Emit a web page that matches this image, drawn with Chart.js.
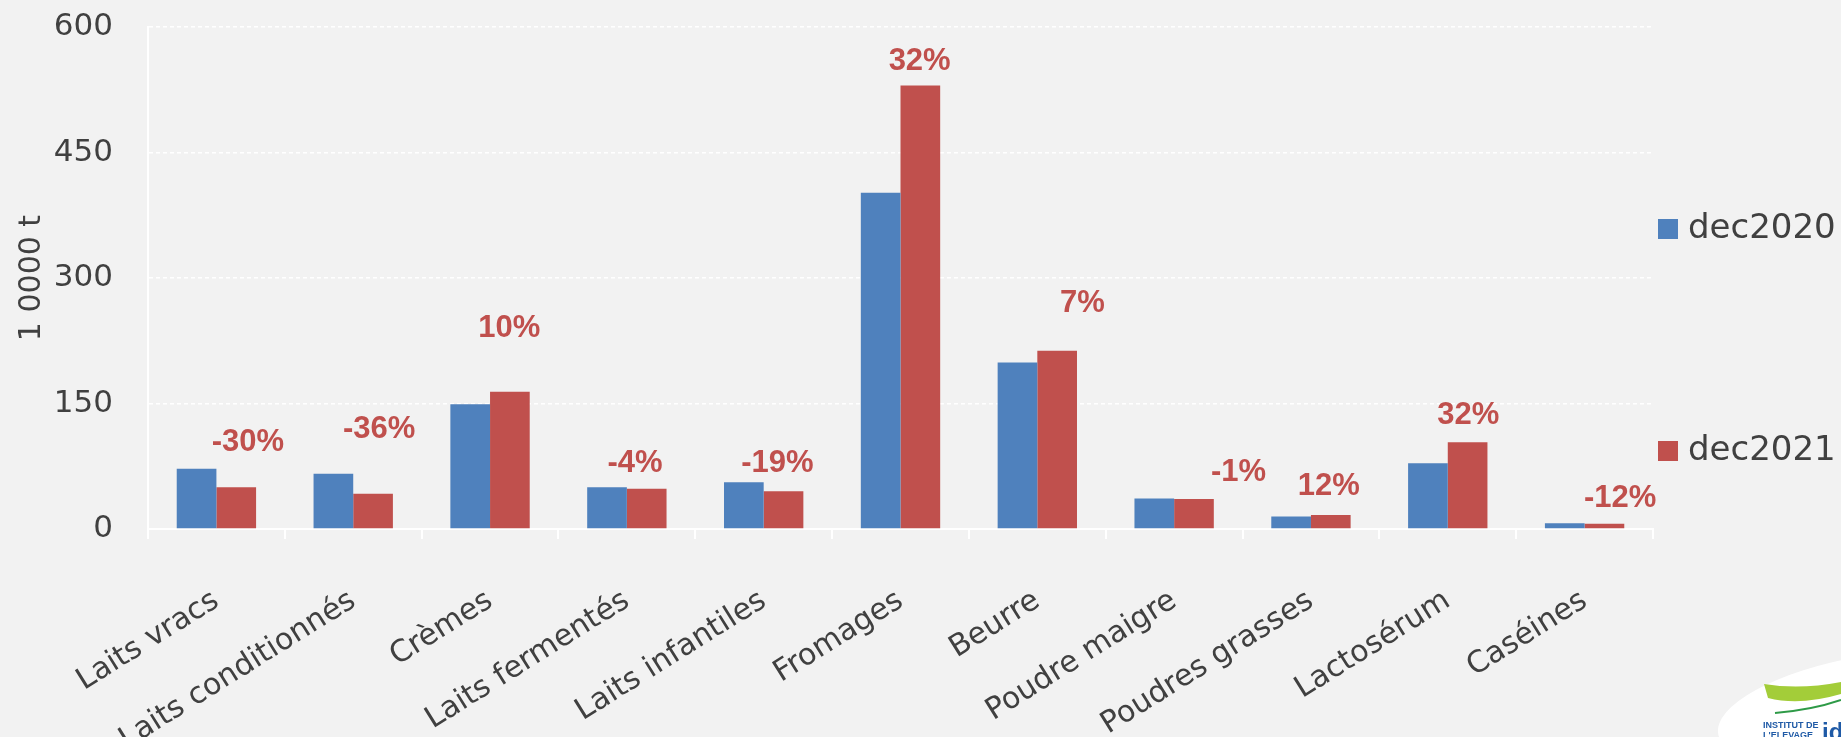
<!DOCTYPE html>
<html>
<head>
<meta charset="utf-8">
<script src="https://cdn.jsdelivr.net/npm/chart.js@4/dist/chart.umd.min.js"></script>
<style>
  html,body{margin:0;padding:0;background:#F2F2F2;}
  #wrap{width:1841px;height:737px;position:relative;}
</style>
</head>
<body>
<div id="wrap"><canvas id="c" width="1841" height="737"></canvas></div>
<script>
// donnees
const categories = ['Laits vracs','Laits conditionnés','Crèmes','Laits fermentés','Laits infantiles','Fromages','Beurre','Poudre maigre','Poudres grasses','Lactosérum','Caséines'];
const dec2020 = [72, 66, 149, 50, 56, 402, 199, 36.5, 15, 78.5, 7];
const dec2021 = [50, 42, 164, 48, 45, 530, 213, 36, 16.8, 103.6, 6.2];
const evolution = ['-30%','-36%','10%','-4%','-19%','32%','7%','-1%','12%','32%','-12%'];
// ou sont poses les libelles % : hauteur en 10 000 t, decalage en fraction de categorie
const evolutionPos = [104, 119, 240, 78.5, 78.5, 559, 270, 67, 50.5, 136, 36.4];
const evolutionDecal = [0.23, 0.19, 0.14, 0.06, 0.1, 0.14, 0.33, 0.47, 0.13, 0.15, 0.26];
const yTicks = [0, 150, 300, 450, 600];

const BLEU = '#4F81BD', ROUGE = '#C0504D', TXT = '#404040';
const FONT = "'DejaVu Sans', sans-serif";

const bg = { id:'bg', beforeDraw(c){ const x=c.ctx; x.save(); x.fillStyle='#F2F2F2'; x.fillRect(0,0,c.width,c.height); x.restore(); } };

const pctLabels = {
  id:'pct',
  afterDatasetsDraw(c){
    const ctx=c.ctx, ys=c.scales.y, xs=c.scales.x;
    ctx.save();
    ctx.fillStyle=ROUGE; ctx.font="bold 31px 'Liberation Sans', sans-serif";
    ctx.textAlign='center'; ctx.textBaseline='middle';
    evolution.forEach((t,i)=>{ ctx.fillText(t, xs.getPixelForValue(i+evolutionDecal[i]), ys.getPixelForValue(evolutionPos[i])); });
    ctx.restore();
  }
};

const legende = {
  id:'leg',
  afterDraw(c){
    const ctx=c.ctx;
    const items=[{t:'dec2020',col:BLEU,y:229},{t:'dec2021',col:ROUGE,y:451}];
    ctx.save();
    ctx.font="34px "+FONT; ctx.textBaseline='middle'; ctx.textAlign='left';
    items.forEach(it=>{ ctx.fillStyle=it.col; ctx.fillRect(1658,it.y-10,20,20); ctx.fillStyle=TXT; ctx.fillText(it.t,1688,it.y); });
    ctx.restore();
  }
};

const logo = {
  id:'logo',
  afterDraw(c){
    const ctx=c.ctx;
    ctx.save();
    ctx.fillStyle='#ffffff';
    ctx.beginPath(); ctx.ellipse(1868,708,152,52,-0.17,0,Math.PI*2); ctx.fill();
    ctx.fillStyle='#A3CD39';
    ctx.beginPath(); ctx.moveTo(1764,684); ctx.quadraticCurveTo(1800,690,1841,682);
    ctx.lineTo(1841,694); ctx.quadraticCurveTo(1800,706,1768,698); ctx.closePath(); ctx.fill();
    ctx.strokeStyle='#2E9A47'; ctx.lineWidth=2;
    ctx.beginPath(); ctx.moveTo(1775,713); ctx.quadraticCurveTo(1812,710,1841,700); ctx.stroke();
    ctx.fillStyle='#1F5AA6'; ctx.font="bold 9px 'Liberation Sans', sans-serif";
    ctx.fillText('INSTITUT DE',1763,728); ctx.fillText("L'ELEVAGE",1763,738);
    ctx.font="bold 24px 'Liberation Sans', sans-serif"; ctx.fillText('id',1822,740);
    ctx.restore();
  }
};

new Chart(document.getElementById('c'), {
  type:'bar',
  data:{ labels:categories, datasets:[
    {label:'dec2020', data:dec2020, backgroundColor:BLEU},
    {label:'dec2021', data:dec2021, backgroundColor:ROUGE}
  ]},
  options:{
    responsive:false, animation:false, devicePixelRatio:1,
    layout:{padding:{top:27,right:188,left:14,bottom:0}},
    datasets:{bar:{barPercentage:1, categoryPercentage:0.58}},
    plugins:{legend:{display:false}, tooltip:{enabled:false}},
    scales:{
      x:{
        grid:{offset:true, drawOnChartArea:false, color:'#ffffff', tickLength:10, lineWidth:2},
        border:{color:'#ffffff', width:2},
        ticks:{color:TXT, font:{family:FONT, size:30}, minRotation:32, maxRotation:32, padding:44},
        afterFit(s){ s.height=208; }
      },
      y:{
        min:0, max:600,
        afterBuildTicks(s){ s.ticks=yTicks.map(v=>({value:v})); },
        grid:{color:'#ffffff', lineWidth:1.5, drawTicks:true, tickLength:35, tickColor:'rgba(0,0,0,0)'},
        border:{color:'#ffffff', width:2, dash:[4,3]},
        ticks:{color:TXT, font:{family:FONT, size:31}, padding:0},
        title:{display:true, text:'1 0000 t', color:TXT, font:{family:FONT, size:30}, padding:0},
        afterFit(s){ s.width=134; }
      }
    }
  },
  plugins:[bg,pctLabels,legende,logo]
});
</script>
</body>
</html>
